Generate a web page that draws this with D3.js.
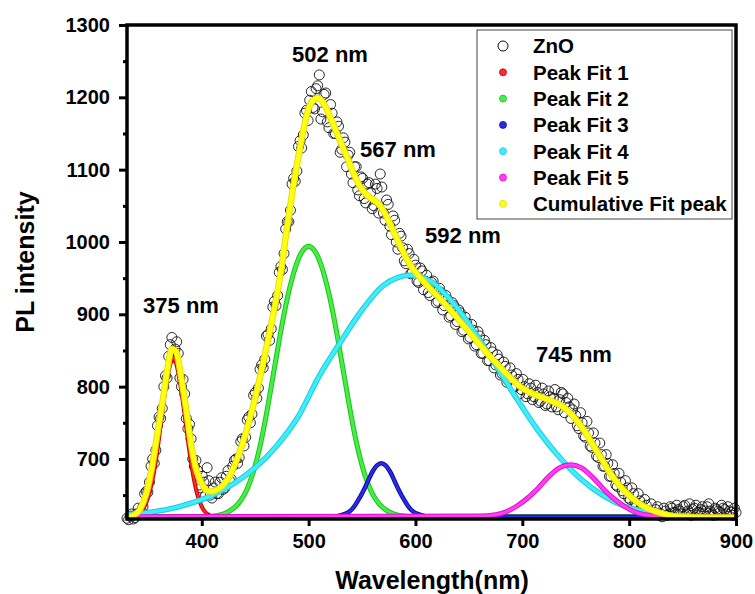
<!DOCTYPE html>
<html>
<head>
<meta charset="utf-8">
<script src="https://cdn.jsdelivr.net/npm/d3@7/dist/d3.min.js"></script>
<style>
  html, body { margin: 0; padding: 0; background: #fff; }
  svg text { font-family: "Liberation Sans", Arial, sans-serif; font-weight: bold; fill: #000; }
</style>
</head>
<body>
<div id="chart"></div>
<script>
/* ---- data --------------------------------------------------------------- */
// ZnO PL spectrum, two interleaved reads: 330, 333 ... 900 nm and 331.5, 334.5 ... 898.5 nm
const znoStartA = 330, znoStartB = 331.5, znoStep = 3;
const znoValA = [
  618,621,617,624,626,634,655,668,700,712,
  758,770,815,842,868,852,846,800,790,742,
  728,690,684,660,668,688,650,660,652,668,
  658,676,670,690,700,702,728,730,758,762,
  792,798,830,838,872,880,918,926,966,984,
  1028,1044,1088,1098,1140,1148,1182,1196,1186,1212,
  1231,1180,1206,1158,1178,1150,1160,1128,1138,1120,
  1094,1104,1072,1090,1060,1080,1068,1050,1074,1094,
  1040,1058,1022,1036,1000,1012,992,970,984,958,
  968,944,960,946,930,944,936,918,930,912,
  920,898,912,890,902,878,888,868,878,858,
  870,846,858,836,848,830,838,818,828,808,
  816,800,810,796,800,790,798,786,792,780,
  790,776,786,784,772,782,790,778,772,768,
  760,742,750,730,736,716,722,702,706,690,
  694,676,680,662,668,652,660,644,652,636,
  642,630,636,626,624,630,622,620,628,624,
  632,626,630,624,636,628,622,632,626,630,
  624,634,628,622,630,626,632,624,628,622,
  626
];
const znoValB = [
  616,624,619,632,628,652,654,690,694,746,
  756,800,812,858,840,862,812,810,756,748,
  700,698,664,676,650,670,646,668,652,674,
  660,684,672,698,694,724,718,754,750,788,
  784,824,826,870,864,910,912,958,962,1018,
  1028,1080,1084,1132,1130,1178,1168,1208,1184,1216,
  1170,1204,1166,1190,1150,1166,1124,1144,1104,1124,
  1082,1104,1064,1088,1054,1082,1046,1080,1040,1076,
  1030,1052,1010,1030,990,1008,974,990,956,976,
  946,964,934,954,926,946,916,936,906,926,
  896,916,886,906,876,896,866,886,856,876,
  846,864,836,854,826,844,816,834,806,826,
  798,818,790,810,786,804,782,802,778,798,
  774,794,772,796,768,792,764,784,756,776,
  746,764,732,752,718,736,704,722,690,706,
  676,692,664,680,656,670,646,660,640,652,
  634,644,628,638,626,634,624,632,622,634,
  626,636,628,634,624,638,630,636,626,634,
  628,638,624,632,628,636,630,634,626,632
];

// Peak Fit 1 (375 nm)
const fit1Nm  = [330,340,346,350,354,358,362,366,370,373,376,380,384,388,392,396,400,405,412,900];
const fit1Val = [620,622,633,648,672,707,752,796,828,840,832,802,760,715,677,650,634,624,620,620];

// Peak Fit 2 (502 nm)
const fit2Nm  = [330,400,415,425,434,440,445,450,455,460,465,470,475,480,485,490,495,500,505,510,515,520,525,530,535,540,545,550,555,560,566,575,585,600,900];
const fit2Val = [620,620,622,627,638,651,668,691,721,758,800,843,885,922,952,975,989,994,989,975,952,922,885,843,800,758,721,691,668,651,638,627,622,620,620];

// Peak Fit 3 (567 nm)
const fit3Nm  = [330,523,532,538,543,548,552,556,560,564,568,572,576,580,584,588,593,598,604,613,900];
const fit3Val = [620,620,623,627,635,647,658,671,683,691,694,691,683,671,658,647,635,627,623,620,620];

// Peak Fit 4 (592 nm)
const fit4Nm  = [330,350,370,390,410,430,450,470,490,510,530,550,570,595,615,635,655,675,695,715,735,755,775,795,815,840,870,900];
const fit4Val = [623,626,631,639,650,666,688,718,758,815,862,906,940,954,945,916,876,830,783,739,702,672,650,635,627,622,620,620];

// Peak Fit 5 (745 nm)
const fit5Nm  = [330,660,675,685,695,705,715,725,735,745,755,765,775,785,795,805,815,830,900];
const fit5Val = [620,621,623,627,635,646,660,676,688,692,688,676,660,646,635,627,623,621,620];

// Cumulative fit
const cumNm  = [330,336,342,348,354,359,364,368,372,376,381,386,390,395,401,405,409,415,420,426,432,437,442,447,452,457,463,470,475,479,484,489,494,498,503,509,515,523,530,536,542,548,555,562,567,573,580,586,592,598,606,614,624,635,646,657,666,676,687,698,707,717,726,735,743,751,759,767,775,782,790,798,808,817,828,838,850,870,900];
const cumVal = [619,622,630,652,694,740,786,826,852,848,810,762,720,684,663,656,655,658,664,676,696,716,740,767,797,830,872,924,968,1012,1062,1106,1146,1174,1194,1199,1189,1163,1138,1117,1095,1077,1064,1057,1050,1035,1013,994,976,962,948,935,920,902,883,864,848,832,815,800,792,786,781,775,766,753,737,717,698,681,665,652,640,632,626,622,620,619,619];

const xTicks = [400, 500, 600, 700, 800, 900];
const yTicks = [700, 800, 900, 1000, 1100, 1200, 1300];
const yMinor = [650, 750, 850, 950, 1050, 1150, 1250];

const peakLabels = ['375 nm', '502 nm', '567 nm', '592 nm', '745 nm'];
const peakLabelAt = [[181, 313], [330, 62], [398, 157], [463, 243], [574, 362]];   // px, text anchor

const legendNames = ['ZnO', 'Peak Fit 1', 'Peak Fit 2', 'Peak Fit 3', 'Peak Fit 4', 'Peak Fit 5', 'Cumulative Fit peak'];

/* ---- layout -------------------------------------------------------------- */
const W = 755, H = 594;
const L = 127, R = 736, T = 25, B = 519;

const svg = d3.select('#chart').append('svg').attr('width', W).attr('height', H);

const x = d3.scaleLinear().domain([330, 900]).range([L, R]);
const y = d3.scaleLinear().domain([617, 1300]).range([B, T]);

svg.append('defs').append('clipPath').attr('id', 'plotclip')
  .append('rect').attr('x', L).attr('y', T).attr('width', R - L).attr('height', B - T);

/* ---- ZnO points ---------------------------------------------------------- */
const zno = znoValA.map(function (v, i) { return [znoStartA + i * znoStep, v]; })
  .concat(znoValB.map(function (v, i) { return [znoStartB + i * znoStep, v]; }));
svg.append('g').selectAll('circle').data(zno).join('circle')
  .attr('cx', function (d) { return x(d[0]); })
  .attr('cy', function (d) { return y(d[1]); })
  .attr('r', 5)
  .attr('fill', 'none')
  .attr('stroke', '#111')
  .attr('stroke-width', 0.9);

/* ---- fit curves ---------------------------------------------------------- */
const line = d3.line()
  .x(function (d) { return x(d[0]); })
  .y(function (d) { return y(d[1]); })
  .curve(d3.curveMonotoneX);

const fits = [
  { nm: fit1Nm, val: fit1Val, edge: '#c80000', fill: '#ff2a2a', w: 4 },
  { nm: fit2Nm, val: fit2Val, edge: '#1fc21f', fill: '#46ee46', w: 5 },
  { nm: fit3Nm, val: fit3Val, edge: '#0e0eaa', fill: '#2b2be2', w: 4.5 },
  { nm: fit4Nm, val: fit4Val, edge: '#1ccbe0', fill: '#3fedf8', w: 5.5 },
  { nm: fit5Nm, val: fit5Val, edge: '#dd10cc', fill: '#ff3cf0', w: 5 },
  { nm: cumNm,  val: cumVal,  edge: '#eadc00', fill: '#ffff14', w: 6.5 }
];

const gFits = svg.append('g').attr('clip-path', 'url(#plotclip)');
fits.forEach(function (f) {
  const pts = f.nm.map(function (n, i) { return [n, f.val[i]]; });
  gFits.append('path').attr('d', line(pts)).attr('fill', 'none')
    .attr('stroke', f.edge).attr('stroke-width', f.w).attr('stroke-linejoin', 'round');
  gFits.append('path').attr('d', line(pts)).attr('fill', 'none')
    .attr('stroke', f.fill).attr('stroke-width', f.w - 2).attr('stroke-linejoin', 'round');
});

/* ---- axes ---------------------------------------------------------------- */
svg.append('g').attr('transform', 'translate(' + L + ',0)')
  .call(d3.axisLeft(y).tickValues(yMinor).tickSize(4).tickFormat(''))
  .call(function (g) { g.select('.domain').remove(); });

const ax = svg.append('g').attr('transform', 'translate(' + L + ',0)')
  .call(d3.axisLeft(y).tickValues(yTicks).tickSize(8).tickPadding(9).tickFormat(d3.format('d')));
ax.select('.domain').remove();
ax.selectAll('text').attr('font-size', 20).style('font-family', '"Liberation Sans", Arial, sans-serif');

const bx = svg.append('g').attr('transform', 'translate(0,' + B + ')')
  .call(d3.axisBottom(x).tickValues(xTicks).tickSize(7).tickPadding(8).tickFormat(d3.format('d')));
bx.select('.domain').remove();
bx.selectAll('text').attr('font-size', 20).style('font-family', '"Liberation Sans", Arial, sans-serif');

svg.selectAll('.tick line').attr('stroke', '#000').attr('stroke-width', 3);

// frame
svg.append('rect').attr('x', L).attr('y', T).attr('width', R - L).attr('height', B - T)
  .attr('fill', 'none').attr('stroke', '#000').attr('stroke-width', 3.5);

/* ---- titles -------------------------------------------------------------- */
svg.append('text').attr('x', 432).attr('y', 589).attr('text-anchor', 'middle')
  .attr('font-size', 25).text('Wavelength(nm)');
svg.append('text').attr('transform', 'translate(34,262) rotate(-90)').attr('text-anchor', 'middle')
  .attr('font-size', 25).text('PL intensity');

/* ---- peak labels --------------------------------------------------------- */
svg.append('g').selectAll('text').data(peakLabels).join('text')
  .attr('x', function (d, i) { return peakLabelAt[i][0]; })
  .attr('y', function (d, i) { return peakLabelAt[i][1]; })
  .attr('text-anchor', 'middle').attr('font-size', 22)
  .text(function (d) { return d; });

/* ---- legend -------------------------------------------------------------- */
const lg = svg.append('g');
lg.append('rect').attr('x', 477).attr('y', 30).attr('width', 255).attr('height', 189)
  .attr('fill', '#fff').attr('stroke', '#444').attr('stroke-width', 1);
const legendColors = ['none'].concat(fits.map(function (f) { return f.fill; }));
const legendEdges = ['#111'].concat(fits.map(function (f) { return f.edge; }));
legendNames.forEach(function (name, i) {
  const cy = 46 + i * 26.3;
  lg.append('circle').attr('cx', 503).attr('cy', cy).attr('r', i === 0 ? 5 : 3.5)
    .attr('fill', legendColors[i]).attr('stroke', legendEdges[i]).attr('stroke-width', i === 0 ? 1 : 0.8);
  lg.append('text').attr('x', 533).attr('y', cy).attr('dy', '0.36em')
    .attr('font-size', 20.5).text(name);
});
</script>
</body>
</html>
